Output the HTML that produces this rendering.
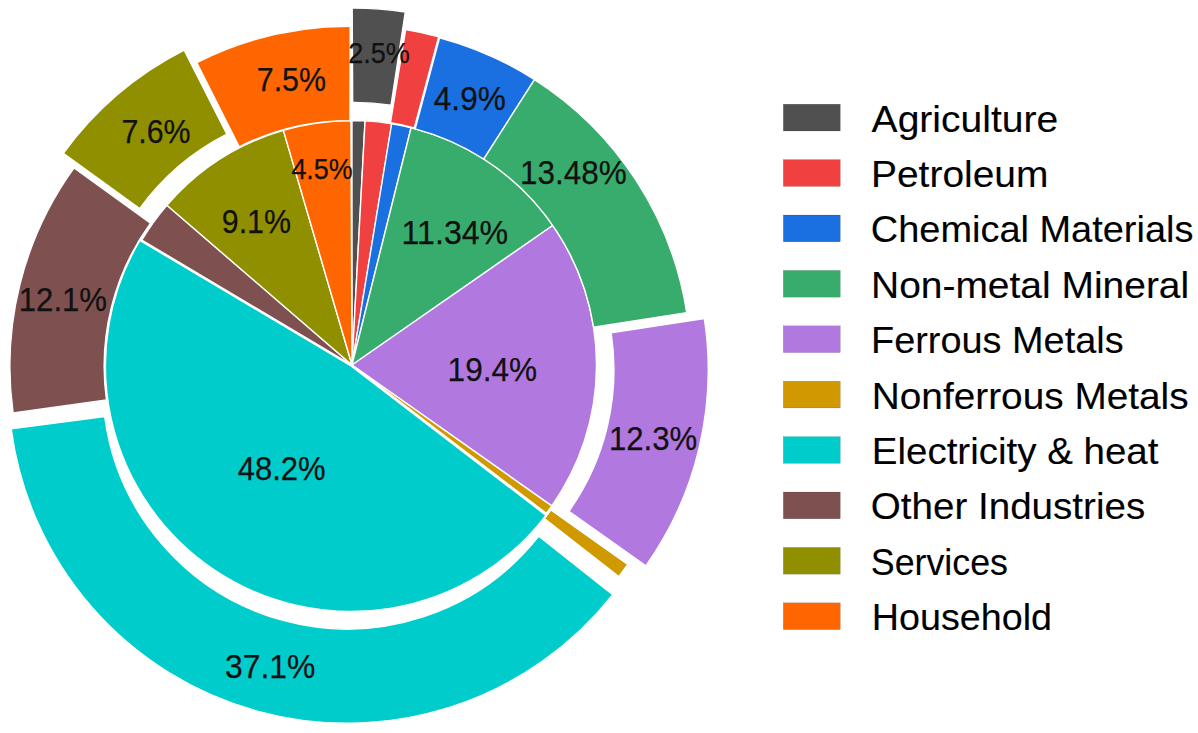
<!DOCTYPE html>
<html><head><meta charset="utf-8"><style>
html,body{margin:0;padding:0;background:#fff;}
body{width:1198px;height:733px;overflow:hidden;}
svg{display:block;font-family:"Liberation Sans", sans-serif;}
</style></head><body>
<svg width="1198" height="733" viewBox="0 0 1198 733">
<rect width="1198" height="733" fill="#fff"/>
<g stroke="#fff" stroke-width="1.4" stroke-linejoin="miter">
<path d="M352.00,365.00 L352.00,120.50 A244.5,244.5 0 0 1 365.05,120.85 Z" fill="#505050"/>
<path d="M352.00,365.00 L365.05,120.85 A244.5,244.5 0 0 1 391.68,123.74 Z" fill="#F04040"/>
<path d="M352.00,365.00 L391.68,123.74 A244.5,244.5 0 0 1 411.07,127.74 Z" fill="#1A70E0"/>
<path d="M352.00,365.00 L411.07,127.74 A244.5,244.5 0 0 1 552.77,225.46 Z" fill="#38AC6C"/>
<path d="M352.00,365.00 L552.77,225.46 A244.5,244.5 0 0 1 551.79,505.94 Z" fill="#B178DF"/>
<path d="M352.00,365.00 L551.79,505.94 A244.5,244.5 0 0 1 546.36,513.33 Z" fill="#D09900"/>
<path d="M351.03,365.90 L545.99,515.33 A245.64,245.64 0 0 1 139.86,240.42 Z" fill="#00CCCC"/>
<path d="M352.00,365.00 L141.81,240.10 A244.5,244.5 0 0 1 166.91,205.24 Z" fill="#7E5050"/>
<path d="M352.00,365.00 L166.91,205.24 A244.5,244.5 0 0 1 283.38,130.33 Z" fill="#8F8F00"/>
<path d="M352.00,365.00 L283.38,130.33 A244.5,244.5 0 0 1 350.93,120.50 Z" fill="#FF6600"/>
<path d="M352.18,8.09 A338.8,338.8 0 0 1 405.32,11.98 L391.05,105.19 A244.5,244.5 0 0 0 352.70,102.38 Z" fill="#505050"/>
<path d="M405.64,29.68 A338.8,338.8 0 0 1 438.69,36.77 L414.32,127.87 A244.5,244.5 0 0 0 390.46,122.75 Z" fill="#F04040"/>
<path d="M439.57,37.71 A338.8,338.8 0 0 1 534.54,79.58 L483.73,159.02 A244.5,244.5 0 0 0 415.20,128.81 Z" fill="#1A70E0"/>
<path d="M534.54,79.58 A338.8,338.8 0 0 1 686.72,312.58 L593.56,327.17 A244.5,244.5 0 0 0 483.73,159.02 Z" fill="#38AC6C"/>
<path d="M704.32,318.46 A338.8,338.8 0 0 1 645.85,565.80 L568.92,511.27 A244.5,244.5 0 0 0 611.12,332.77 Z" fill="#B178DF"/>
<path d="M627.80,564.48 A338.8,338.8 0 0 1 618.72,576.67 L544.37,518.66 A244.5,244.5 0 0 0 550.92,509.87 Z" fill="#D09900"/>
<path d="M612.73,594.70 A338.8,338.8 0 0 1 11.20,428.90 L104.68,416.52 A244.5,244.5 0 0 0 538.79,536.18 Z" fill="#00CCCC"/>
<path d="M13.08,412.92 A338.8,338.8 0 0 1 74.08,167.88 L150.50,223.12 A244.5,244.5 0 0 0 106.48,399.96 Z" fill="#7E5050"/>
<path d="M63.35,153.33 A338.8,338.8 0 0 1 184.18,50.17 L226.89,134.24 A244.5,244.5 0 0 0 139.69,208.69 Z" fill="#8F8F00"/>
<path d="M196.72,62.65 A338.8,338.8 0 0 1 350.20,26.31 L349.97,120.61 A244.5,244.5 0 0 0 239.21,146.83 Z" fill="#FF6600"/>
</g>
<g font-size="34" fill="#111" stroke="#111" stroke-width="0.25">
<text x="348.20" y="62.50" font-size="30" textLength="61.60" lengthAdjust="spacingAndGlyphs">2.5%</text>
<text x="433.80" y="110.30" textLength="72.00" lengthAdjust="spacingAndGlyphs">4.9%</text>
<text x="520.00" y="183.70" textLength="106.60" lengthAdjust="spacingAndGlyphs">13.48%</text>
<text x="401.60" y="243.70" textLength="106.60" lengthAdjust="spacingAndGlyphs">11.34%</text>
<text x="291.40" y="178.90" font-size="30" textLength="61.40" lengthAdjust="spacingAndGlyphs">4.5%</text>
<text x="256.80" y="90.70" textLength="69.20" lengthAdjust="spacingAndGlyphs">7.5%</text>
<text x="121.40" y="143.10" textLength="69.20" lengthAdjust="spacingAndGlyphs">7.6%</text>
<text x="221.80" y="233.10" textLength="69.20" lengthAdjust="spacingAndGlyphs">9.1%</text>
<text x="18.80" y="310.70" textLength="88.20" lengthAdjust="spacingAndGlyphs">12.1%</text>
<text x="447.60" y="380.90" textLength="89.40" lengthAdjust="spacingAndGlyphs">19.4%</text>
<text x="609.00" y="450.10" textLength="88.20" lengthAdjust="spacingAndGlyphs">12.3%</text>
<text x="237.80" y="479.70" textLength="87.80" lengthAdjust="spacingAndGlyphs">48.2%</text>
<text x="225.00" y="677.50" textLength="90.20" lengthAdjust="spacingAndGlyphs">37.1%</text>
</g>
<g font-size="36" fill="#000" stroke="#000" stroke-width="0.1">
<rect x="783.3" y="104.2" width="57" height="26.8" fill="#505050"/>
<text x="871.60" y="131.5" textLength="186.60" lengthAdjust="spacingAndGlyphs">Agriculture</text>
<rect x="783.3" y="159.6" width="57" height="26.8" fill="#F04040"/>
<text x="871.00" y="186.9" textLength="177.40" lengthAdjust="spacingAndGlyphs">Petroleum</text>
<rect x="783.3" y="215.0" width="57" height="26.8" fill="#1A70E0"/>
<text x="870.80" y="242.3" textLength="322.60" lengthAdjust="spacingAndGlyphs">Chemical Materials</text>
<rect x="783.3" y="270.4" width="57" height="26.8" fill="#38AC6C"/>
<text x="871.00" y="297.7" textLength="318.20" lengthAdjust="spacingAndGlyphs">Non-metal Mineral</text>
<rect x="783.3" y="325.8" width="57" height="26.8" fill="#B178DF"/>
<text x="871.00" y="353.1" textLength="252.60" lengthAdjust="spacingAndGlyphs">Ferrous Metals</text>
<rect x="783.3" y="381.2" width="57" height="26.8" fill="#D09900"/>
<text x="871.80" y="408.5" textLength="316.80" lengthAdjust="spacingAndGlyphs">Nonferrous Metals</text>
<rect x="783.3" y="436.6" width="57" height="26.8" fill="#00CCCC"/>
<text x="871.80" y="463.9" textLength="286.60" lengthAdjust="spacingAndGlyphs">Electricity &amp; heat</text>
<rect x="783.3" y="492.0" width="57" height="26.8" fill="#7E5050"/>
<text x="870.80" y="519.3" textLength="274.40" lengthAdjust="spacingAndGlyphs">Other Industries</text>
<rect x="783.3" y="547.4" width="57" height="26.8" fill="#8F8F00"/>
<text x="870.80" y="574.7" textLength="137.20" lengthAdjust="spacingAndGlyphs">Services</text>
<rect x="783.3" y="602.8" width="57" height="26.8" fill="#FF6600"/>
<text x="871.80" y="630.1" textLength="180.20" lengthAdjust="spacingAndGlyphs">Household</text>
</g>
</svg>
</body></html>
